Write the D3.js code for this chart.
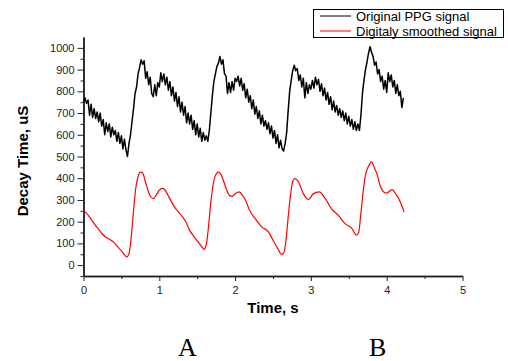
<!DOCTYPE html>
<html>
<head>
<meta charset="utf-8">
<script src="https://cdn.jsdelivr.net/npm/d3@7/dist/d3.min.js"></script>
<style>
  body { margin: 0; background: #fff; }
  svg { display: block; }
</style>
</head>
<body>
<svg id="chart" width="508" height="361"></svg>
<script>
// --- data ---
const seriesNames = ['Original PPG signal', 'Digitaly smoothed signal'];
const seriesColors = ['#000000', '#ff0000'];

// original PPG, sampled every 0.02 s from t = 0
const ppgStep = 0.02;
const ppgValues = [
  750, 770, 745, 760, 690, 740, 680, 720, 675, 705,
  660, 700, 640, 670, 600, 655, 615, 650, 590, 635,
  600, 620, 570, 610, 560, 595, 535, 580, 530, 500,
  560, 600, 660, 720, 790, 820, 880, 910, 945, 925,
  940, 860, 890, 830, 865, 790, 775, 830, 780, 840,
  820, 885, 845, 880, 830, 865, 805, 845, 780, 820,
  755, 795, 730, 775, 705, 750, 690, 730, 655, 700,
  650, 690, 625, 665, 600, 650, 590, 630, 570, 610,
  575, 595, 570, 620, 700, 780, 845, 880, 915, 930,
  960, 925, 945, 880, 870, 790, 840, 795, 845, 805,
  860, 845, 870, 825, 860, 805, 835, 770, 810, 750,
  780, 720, 760, 695, 730, 675, 710, 650, 690, 640,
  665, 625, 655, 605, 640, 585, 620, 560, 600, 540,
  575, 535, 525, 560, 610, 710, 800, 850, 895, 920,
  895, 905, 850, 875, 820, 860, 770, 840, 790, 830,
  810, 850, 815, 865, 830, 855, 800, 835, 780, 815,
  760, 795, 740, 775, 715, 755, 705, 735, 690, 720,
  680, 710, 665, 700, 650, 685, 640, 670, 625, 660,
  620, 650, 620, 690, 790, 850, 900, 935, 975, 1005,
  980, 960, 920, 935, 880, 900, 845, 870, 810, 850,
  795, 885, 845, 875, 820, 850, 790, 830, 780, 800,
  725, 770
];

// smoothed signal [time s, value]
const smoothPoints = [
  [0.00, 252], [0.05, 235], [0.10, 212], [0.15, 186], [0.20, 165], [0.25, 142],
  [0.30, 128], [0.35, 118], [0.40, 105], [0.45, 85], [0.50, 66], [0.55, 44],
  [0.57, 38], [0.60, 52], [0.63, 130], [0.66, 250], [0.69, 355], [0.72, 408],
  [0.75, 428], [0.78, 425], [0.81, 392], [0.85, 345], [0.88, 318], [0.92, 306],
  [0.96, 322], [1.00, 345], [1.04, 353], [1.07, 348], [1.11, 325], [1.15, 298],
  [1.20, 268], [1.25, 245], [1.30, 225], [1.35, 200], [1.40, 160], [1.45, 135],
  [1.50, 112], [1.55, 90], [1.59, 73], [1.62, 95], [1.65, 180], [1.68, 290],
  [1.71, 370], [1.74, 412], [1.78, 428], [1.81, 420], [1.85, 385], [1.89, 345],
  [1.93, 320], [1.96, 317], [2.00, 328], [2.05, 337], [2.09, 325], [2.13, 304],
  [2.19, 253], [2.28, 207], [2.35, 176], [2.44, 153], [2.50, 115], [2.57, 72],
  [2.61, 49], [2.64, 55], [2.67, 110], [2.70, 220], [2.73, 320], [2.76, 385],
  [2.79, 398], [2.83, 387], [2.90, 329], [2.97, 302], [3.03, 328], [3.11, 337],
  [3.19, 306], [3.27, 260], [3.36, 230], [3.45, 191], [3.54, 169], [3.60, 138],
  [3.63, 150], [3.66, 240], [3.69, 340], [3.72, 415], [3.76, 455], [3.80, 475],
  [3.84, 445], [3.87, 421], [3.92, 360], [3.96, 337], [4.00, 332], [4.07, 348],
  [4.13, 322], [4.18, 291], [4.23, 245]
];

const xTicks = [0, 1, 2, 3, 4, 5];
const yTicks = [0, 100, 200, 300, 400, 500, 600, 700, 800, 900, 1000];
const xTitle = 'Time, s';
const yTitle = 'Decay Time, uS';
const panelLabels = [['A', 1.37], ['B', 3.88]];

// --- layout ---
const svg = d3.select('#chart');
const plotLeft = 83.5, plotRight = 462.5, plotTop = 37, plotBottom = 276;
const FONT = 'Arial, "Liberation Sans", sans-serif';

const x = d3.scaleLinear().domain([0, 5]).range([plotLeft, plotRight]);
const y = d3.scaleLinear().domain([-50, 1050]).range([plotBottom, plotTop]);

// --- axes ---
const xAxis = svg.append('g').attr('transform', `translate(0,${plotBottom})`)
  .call(d3.axisBottom(x).tickValues(xTicks).tickFormat(d3.format('d')).tickSize(5).tickSizeOuter(0));
const xMinor = svg.append('g').attr('transform', `translate(0,${plotBottom})`)
  .call(d3.axisBottom(x).tickValues(d3.range(0.5, 5, 1)).tickFormat('').tickSize(3).tickSizeOuter(0));

const yAxis = svg.append('g').attr('transform', `translate(${plotLeft},0)`)
  .call(d3.axisLeft(y).tickValues(yTicks).tickFormat(d3.format('d')).tickSize(6).tickSizeOuter(0));
const yMinor = svg.append('g').attr('transform', `translate(${plotLeft},0)`)
  .call(d3.axisLeft(y).tickValues(d3.range(-50, 1050, 100)).tickFormat('').tickSize(3).tickSizeOuter(0));

[xAxis, xMinor, yAxis, yMinor].forEach(g => {
  g.select('.domain').attr('stroke', '#222').attr('stroke-width', 1.5);
  g.selectAll('.tick line').attr('stroke', '#222').attr('stroke-width', 1);
  g.selectAll('.tick text')
    .attr('fill', '#222')
    .style('font-family', FONT)
    .style('font-size', '11px');
});
xAxis.selectAll('.tick text').attr('dy', '0.9em');
yAxis.selectAll('.tick text').attr('x', -9);

// --- lines ---
const ppgLine = d3.line()
  .x((d, i) => x(i * ppgStep))
  .y(d => y(d));

svg.append('path')
  .datum(ppgValues)
  .attr('fill', 'none')
  .attr('stroke', seriesColors[0])
  .attr('stroke-width', 1.5)
  .attr('stroke-linejoin', 'round')
  .attr('d', ppgLine);

const smoothLine = d3.line()
  .curve(d3.curveMonotoneX)
  .x(d => x(d[0]))
  .y(d => y(d[1]));

svg.append('path')
  .datum(smoothPoints)
  .attr('fill', 'none')
  .attr('stroke', seriesColors[1])
  .attr('stroke-width', 1.2)
  .attr('d', smoothLine);

// --- titles ---
svg.append('text')
  .attr('x', x(2.5)).attr('y', 313)
  .attr('text-anchor', 'middle')
  .style('font-family', FONT).style('font-size', '15px').style('font-weight', 'bold')
  .text(xTitle);

svg.append('text')
  .attr('transform', 'translate(28,161) rotate(-90)')
  .attr('text-anchor', 'middle')
  .style('font-family', FONT).style('font-size', '15px').style('font-weight', 'bold')
  .text(yTitle);

// --- legend ---
const legend = svg.append('g');
legend.append('rect')
  .attr('x', 313.5).attr('y', 9.5).attr('width', 190).attr('height', 28)
  .attr('fill', '#fff').attr('stroke', '#000').attr('stroke-width', 1);

seriesNames.forEach((name, i) => {
  const ly = 16 + i * 15;
  legend.append('line')
    .attr('x1', 320).attr('x2', 351).attr('y1', ly).attr('y2', ly)
    .attr('stroke', seriesColors[i]).attr('stroke-width', 1);
  legend.append('text')
    .attr('x', 356).attr('y', ly + 4.5)
    .style('font-family', FONT).style('font-size', '13px')
    .attr('fill', '#000')
    .text(name);
});

// --- panel letters under the chart ---
panelLabels.forEach(([label, pos]) => {
  svg.append('text')
    .attr('x', x(pos)).attr('y', 356)
    .attr('text-anchor', 'middle')
    .style('font-family', '"Liberation Serif", "Times New Roman", serif')
    .style('font-size', '26px')
    .attr('fill', '#000')
    .text(label);
});
</script>
</body>
</html>
